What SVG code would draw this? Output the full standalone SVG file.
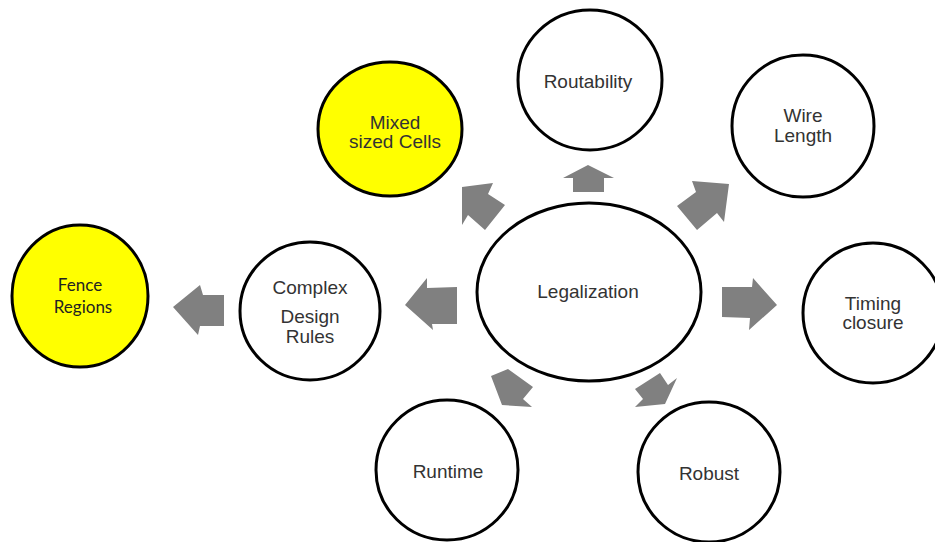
<svg xmlns="http://www.w3.org/2000/svg" width="935" height="542" viewBox="0 0 935 542">
  <style>
    .node { fill: #ffffff; stroke: #000000; stroke-width: 3; }
    .hl { fill: #ffff00; }
    .lbl { font-family: "Liberation Sans", Arial, sans-serif; font-size: 19px; fill: #333333; text-anchor: middle; }
    .lbl2 { font-family: Lato, "Liberation Sans", sans-serif; font-size: 17px; fill: #222222; text-anchor: middle; }
    .arrow { fill: #808080; stroke: none; }
  </style>

  <!-- block arrows -->
  <g id="connectors">
    <!-- centre to Routability -->
    <polygon class="arrow" points="588,165 614,178 604,178 604,192 573,192 573,178 563,178"/>
    <!-- centre to Mixed sized Cells -->
    <polygon class="arrow" points="462,187 493,183 488,194 505,205 485,230 468,215 462,225"/>
    <!-- centre to Wire Length -->
    <polygon class="arrow" points="729,184 724,222 717,213 697,230 677,206 696,192 692,181"/>
    <!-- centre to Timing closure -->
    <polygon class="arrow" points="722,287 752,287 753,278 777,305 749,330 750,318 722,317"/>
    <!-- centre to Complex Design Rules -->
    <polygon class="arrow" points="405,305 427,278 427,288 457,287 457,324 432,324 433,330"/>
    <!-- Complex Design Rules to Fence Regions -->
    <polygon class="arrow" points="173,307 200,285 203,295 224,295 224,326 200,326 198,335"/>
    <!-- centre to Runtime -->
    <polygon class="arrow" points="491,376 508,369 533,387 523,399 532,407 502,405"/>
    <!-- centre to Robust -->
    <polygon class="arrow" points="635,389 660,373 668,385 677,378 665,404 635,407 643,399"/>
  </g>

  <g id="legalization">
    <ellipse class="node" cx="589" cy="292" rx="112" ry="89"/>
    <text class="lbl" x="588" y="298">Legalization</text>
  </g>

  <g id="routability">
    <ellipse class="node" cx="590" cy="80" rx="72" ry="70"/>
    <text class="lbl" x="588" y="88">Routability</text>
  </g>

  <g id="mixed-sized-cells">
    <ellipse class="node hl" cx="390" cy="129" rx="72" ry="67"/>
    <text class="lbl" x="395" y="129" font-size="18">Mixed</text>
    <text class="lbl" x="395" y="148" font-size="18">sized Cells</text>
  </g>

  <g id="wire-length">
    <ellipse class="node" cx="803" cy="126" rx="71" ry="71"/>
    <text class="lbl" x="803" y="122">Wire</text>
    <text class="lbl" x="803" y="142">Length</text>
  </g>

  <g id="timing-closure">
    <ellipse class="node" cx="873" cy="313" rx="70" ry="70"/>
    <text class="lbl" x="873" y="310">Timing</text>
    <text class="lbl" x="873" y="329">closure</text>
  </g>

  <g id="complex-design-rules">
    <ellipse class="node" cx="310" cy="311" rx="70" ry="69"/>
    <text class="lbl" x="310" y="294">Complex</text>
    <text class="lbl" x="310" y="323">Design</text>
    <text class="lbl" x="310" y="343">Rules</text>
  </g>

  <g id="fence-regions">
    <ellipse class="node hl" cx="80" cy="296" rx="68" ry="71"/>
    <text class="lbl2" x="80" y="291">Fence</text>
    <text class="lbl2" x="83" y="313">Regions</text>
  </g>

  <g id="runtime">
    <ellipse class="node" cx="447" cy="470" rx="71" ry="70"/>
    <text class="lbl" x="448" y="478">Runtime</text>
  </g>

  <g id="robust">
    <ellipse class="node" cx="709" cy="472" rx="71" ry="70"/>
    <text class="lbl" x="709" y="480">Robust</text>
  </g>
</svg>
